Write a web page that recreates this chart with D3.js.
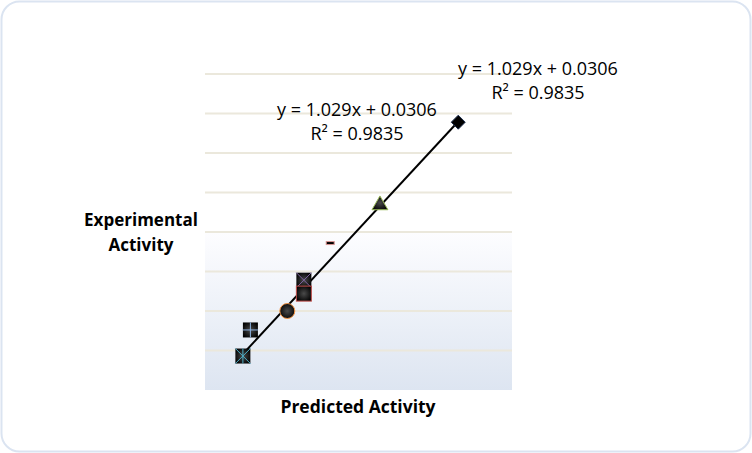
<!DOCTYPE html>
<html>
<head>
<meta charset="utf-8">
<script src="https://cdn.jsdelivr.net/npm/d3@7"></script>
<style>
  body { margin: 0; background: #fff; }
  text { font-family: "Open Sans", "Liberation Sans", sans-serif; }
</style>
</head>
<body>
<div id="container"></div>
<script>
// predicted vs experimental activity
const predicted = [4.30, 4.40, 4.89, 5.11, 5.11, 5.46, 6.12, 7.16];
const experimental = [4.43, 4.76, 5.00, 5.39, 5.22, 5.86, 6.34, 7.39];
const markerTypes = ["squareX", "squarePlus", "circle", "squareX2", "squareRed", "dash", "triangle", "diamond"];
const slope = 1.029;
const intercept = 0.0306;
const eqLabel = "y = 1.029x + 0.0306";
const r2Label = "R² = 0.9835";
const yGrid = [4, 4.5, 5, 5.5, 6, 6.5, 7, 7.5, 8];

const width = 752;
const height = 453;
const plotLeft = 205, plotRight = 512, plotTop = 74, plotBottom = 390;

const x = d3.scaleLinear([3.797, 7.874], [plotLeft, plotRight]);
const y = d3.scaleLinear([4, 8], [plotBottom, plotTop]);

const svg = d3.create("svg")
    .attr("width", width)
    .attr("height", height)
    .attr("viewBox", [0, 0, width, height]);

const defs = svg.append("defs");
const bg = defs.append("linearGradient").attr("id", "bg").attr("x1", 0).attr("y1", 0).attr("x2", 0).attr("y2", 1);
bg.append("stop").attr("offset", "0%").attr("stop-color", "#fdfdff");
bg.append("stop").attr("offset", "100%").attr("stop-color", "#dde5f1");

const mk = defs.append("radialGradient").attr("id", "mk").attr("cx", "50%").attr("cy", "50%").attr("r", "60%");
mk.append("stop").attr("offset", "0%").attr("stop-color", "#4a4a4a");
mk.append("stop").attr("offset", "100%").attr("stop-color", "#000");

// outer frame
svg.append("rect")
    .attr("x", 1.5).attr("y", 1.5)
    .attr("width", width - 3).attr("height", height - 3)
    .attr("rx", 18)
    .attr("fill", "#fff")
    .attr("stroke", "#dbe4f1")
    .attr("stroke-width", 2);

// lower part of the plot area is shaded
svg.append("rect")
    .attr("x", plotLeft).attr("y", y(6))
    .attr("width", plotRight - plotLeft).attr("height", plotBottom - y(6))
    .attr("fill", "url(#bg)");

// grid lines
svg.append("g")
    .selectAll("line")
    .data(yGrid.slice(1))
    .join("line")
    .attr("x1", plotLeft).attr("x2", plotRight)
    .attr("y1", d => y(d)).attr("y2", d => y(d))
    .attr("stroke", "#ebe8dc")
    .attr("stroke-width", 2);

// trend line
const x0 = d3.min(predicted), x1 = d3.max(predicted);
svg.append("line")
    .attr("x1", x(x0)).attr("y1", y(slope * x0 + intercept))
    .attr("x2", x(x1)).attr("y2", y(slope * x1 + intercept))
    .attr("stroke", "#000")
    .attr("stroke-width", 2);

// markers
const points = predicted.map((p, i) => ({x: p, y: experimental[i], type: markerTypes[i]}));
const g = svg.append("g");
points.forEach(function(d) {
    const cx = x(d.x), cy = y(d.y);
    const s = 7.5;
    if (d.type === "squareX" || d.type === "squareX2" || d.type === "squarePlus" || d.type === "squareRed") {
        g.append("rect")
            .attr("x", cx - s).attr("y", cy - s)
            .attr("width", 2 * s).attr("height", 2 * s)
            .attr("fill", "url(#mk)")
            .attr("stroke", d.type === "squareRed" ? "#c0504d" : "none")
            .attr("stroke-width", 1);
        let col = d.type === "squareX" ? "#4bacc6" : d.type === "squareX2" ? "#8064a2" : "#8db3e2";
        if (d.type === "squareX" || d.type === "squareX2") {
            g.append("path")
                .attr("d", `M${cx - s},${cy - s}L${cx + s},${cy + s}M${cx + s},${cy - s}L${cx - s},${cy + s}`)
                .attr("stroke", col).attr("stroke-width", 1);
            if (d.type === "squareX") {
                g.append("path")
                    .attr("d", `M${cx},${cy - s}L${cx},${cy + s}`)
                    .attr("stroke", col).attr("stroke-width", 1);
            }
        } else if (d.type === "squarePlus") {
            g.append("path")
                .attr("d", `M${cx - s},${cy}L${cx + s},${cy}M${cx},${cy - s}L${cx},${cy + s}`)
                .attr("stroke", col).attr("stroke-width", 1);
        }
    } else if (d.type === "circle") {
        g.append("circle")
            .attr("cx", cx).attr("cy", cy).attr("r", 7.5)
            .attr("fill", "url(#mk)")
            .attr("stroke", "#f79646").attr("stroke-width", 1);
    } else if (d.type === "dash") {
        g.append("rect")
            .attr("x", cx - 4).attr("y", cy - 1.5)
            .attr("width", 8).attr("height", 3)
            .attr("fill", "#000")
            .attr("stroke", "#d99694").attr("stroke-width", 1);
    } else if (d.type === "triangle") {
        g.append("path")
            .attr("d", d3.symbol(d3.symbolTriangle, 110)())
            .attr("transform", `translate(${cx},${cy})`)
            .attr("fill", "url(#mk)")
            .attr("stroke", "#9bbb59").attr("stroke-width", 1);
    } else {
        g.append("path")
            .attr("d", `M${cx},${cy - 7}L${cx + 7},${cy}L${cx},${cy + 7}L${cx - 7},${cy}Z`)
            .attr("fill", "#000")
            .attr("stroke", "#1f3050").attr("stroke-width", 1);
    }
});

// equation labels (two copies)
function eqBox(cx, top) {
    svg.append("text")
        .attr("x", cx).attr("y", top)
        .attr("text-anchor", "middle")
        .attr("font-size", 18)
        .attr("fill", "#000")
        .text(eqLabel);
    svg.append("text")
        .attr("x", cx).attr("y", top + 24)
        .attr("text-anchor", "middle")
        .attr("font-size", 18)
        .attr("fill", "#000")
        .text(r2Label);
}
eqBox(357, 116);
eqBox(538, 75);

// axis titles
svg.append("text")
    .attr("x", 141).attr("y", 226)
    .attr("text-anchor", "middle")
    .attr("font-size", 17).attr("font-weight", "bold")
    .text("Experimental");
svg.append("text")
    .attr("x", 141).attr("y", 251)
    .attr("text-anchor", "middle")
    .attr("font-size", 17).attr("font-weight", "bold")
    .text("Activity");
svg.append("text")
    .attr("x", 358).attr("y", 413)
    .attr("text-anchor", "middle")
    .attr("font-size", 17.5).attr("font-weight", "bold")
    .text("Predicted Activity");

document.getElementById("container").append(svg.node());
</script>
</body>
</html>
